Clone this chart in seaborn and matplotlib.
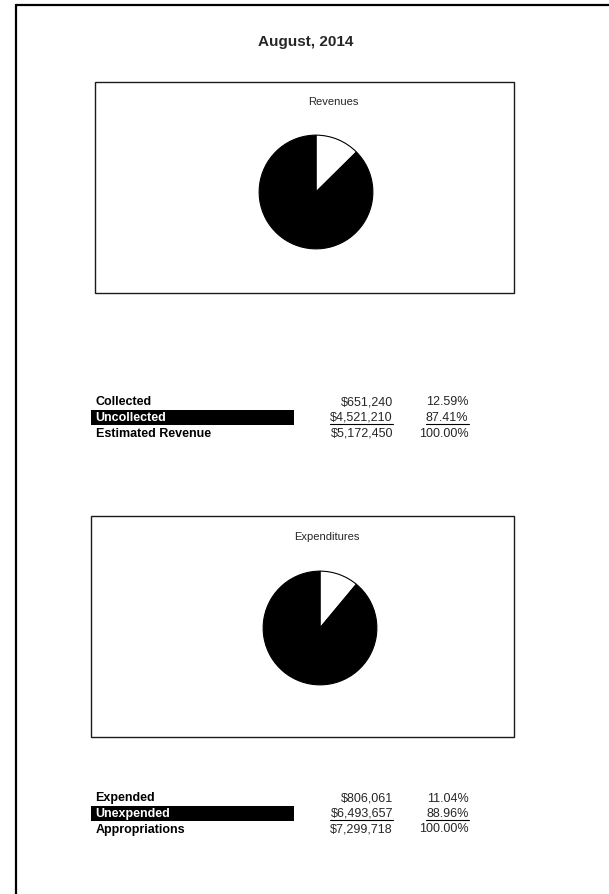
import matplotlib
matplotlib.use("Agg")
import matplotlib.pyplot as plt
import seaborn as sns
from matplotlib.lines import Line2D
from matplotlib.patches import Rectangle

# Data
title = "August, 2014"

rev_title = "Revenues"
rev_labels = ["Collected", "Uncollected", "Estimated Revenue"]
rev_amounts = [651240, 4521210, 5172450]
rev_pcts = [12.59, 87.41, 100.00]

exp_title = "Expenditures"
exp_labels = ["Expended", "Unexpended", "Appropriations"]
exp_amounts = [806061, 6493657, 7299718]
exp_pcts = [11.04, 88.96, 100.00]

pie_colors = ["white", "black"]

sns.set_style("white")
plt.rcParams['font.family'] = ['Liberation Sans', 'DejaVu Sans']

W, H = 609, 894
fig = plt.figure(figsize=(W / 100, H / 100), dpi=100)


def fx(x):
    return x / W


def fy(y):
    return 1 - y / H


def frame_box(x0, y0, x1, y1):
    fig.add_artist(Rectangle((fx(x0), fy(y1)), (x1 - x0) / W, (y1 - y0) / H,
                             transform=fig.transFigure, fill=False,
                             edgecolor="#1a1a1a", lw=1.0))


def pie_chart(values, cx, cy, r):
    ax = fig.add_axes([fx(cx - r), fy(cy + r), 2 * r / W, 2 * r / H])
    ax.pie(values, colors=pie_colors, startangle=90, counterclock=False,
           wedgeprops=dict(edgecolor="black", linewidth=0.8))
    ax.set_xlim(-1.02, 1.02)
    ax.set_ylim(-1.02, 1.02)
    ax.set_axis_off()
    return ax


def summary_table(labels, amounts, pcts, y0):
    step = 15.5
    under = []
    for i, (lab, amt, pct) in enumerate(zip(labels, amounts, pcts)):
        yb = y0 + i * step
        color = "black"
        if i == 1:
            fig.add_artist(Rectangle((fx(91), fy(yb + 3.5)), (294 - 91) / W, 14.5 / H,
                                     transform=fig.transFigure, color="black", lw=0))
            color = "white"
        fig.text(fx(95.5), fy(yb), lab, fontsize=9, fontweight="bold", color=color,
                 ha="left", va="baseline")
        t1 = fig.text(fx(393), fy(yb), f"${amt:,.0f}", fontsize=9,
                      ha="right", va="baseline")
        t2 = fig.text(fx(468.5), fy(yb), f"{pct:.2f}%", fontsize=9,
                      ha="right", va="baseline")
        if i == 1:
            under.append((t1, yb))
            under.append((t2, yb))
    return under


# outer frame: left and top edges only
fig.add_artist(Line2D([fx(15.5), fx(15.5)], [fy(4.5), 0], transform=fig.transFigure,
                      color="black", lw=1.6))
fig.add_artist(Line2D([fx(15.5), 1], [fy(4.5), fy(4.5)], transform=fig.transFigure,
                      color="black", lw=1.6))

fig.text(fx(306), fy(42), title, fontsize=11, fontweight="bold",
         ha="center", va="center")

# Revenues
frame_box(95, 82, 514, 293)
fig.text(fx(333), fy(102), rev_title, fontsize=8, ha="center", va="center")
pie_chart(rev_amounts[:2], 316, 192, 58)
u1 = summary_table(rev_labels, rev_amounts, rev_pcts, 405.5)

# Expenditures
frame_box(91, 516, 514, 737)
fig.text(fx(327), fy(537), exp_title, fontsize=8, ha="center", va="center")
pie_chart(exp_amounts[:2], 320, 628, 58)
u2 = summary_table(exp_labels, exp_amounts, exp_pcts, 801.5)

# underline the middle row numbers
fig.canvas.draw()
r = fig.canvas.get_renderer()
for t, yb in u1 + u2:
    bb = t.get_window_extent(r)
    fig.add_artist(Line2D([bb.x0 / W, bb.x1 / W], [fy(yb + 2.5), fy(yb + 2.5)],
                          transform=fig.transFigure, color="black", lw=0.8))

fig.savefig("out.png", dpi=100)
